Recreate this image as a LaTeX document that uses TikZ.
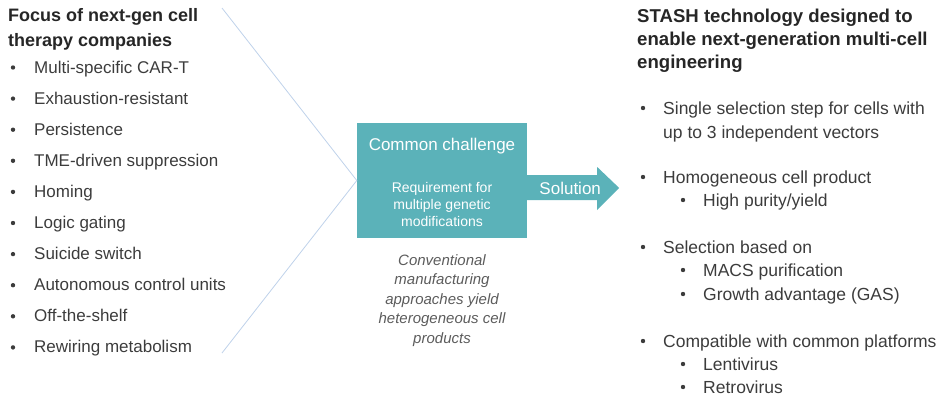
\documentclass[tikz,border=0pt]{standalone}
\usepackage{fontspec}
\setmainfont{Liberation Sans}
\usetikzlibrary{calc, positioning}

\definecolor{boxteal}{HTML}{5BB2B9}
\definecolor{funnel}{HTML}{BFD2EA}
\definecolor{bodytext}{HTML}{3C3C3C}
\definecolor{headtext}{HTML}{262626}
\definecolor{notetext}{HTML}{5C5C5C}

\tikzset{
  heading/.style={anchor=base west, inner sep=0pt, text=headtext,
    font=\fontsize{18}{22}\selectfont\bfseries},
  item/.style={anchor=base west, inner sep=0pt, text=bodytext,
    font=\fontsize{17}{20}\selectfont},
  dot/.style={circle, fill=bodytext, inner sep=0pt, minimum size=4.4pt},
  chalbox/.style={fill=boxteal, inner sep=0pt, minimum width=170, minimum height=115},
  boxtext/.style={anchor=base, inner sep=0pt, text=white},
  note/.style={anchor=base, inner sep=0pt, text=notetext,
    font=\fontsize{15}{18}\selectfont\itshape},
}

\begin{document}
\begin{tikzpicture}[x=1pt, y=-1pt]
\useasboundingbox (0,0) rectangle (950,397);
% Left column: heading and list
\node[heading] (lhead1) at (8,21) {Focus of next-gen cell};
\node[heading] (lhead2) at (8,46) {therapy companies};
\foreach \txt [count=\i from 0] in {Multi-specific CAR-T, Exhaustion-resistant,
    Persistence, TME-driven suppression, Homing, Logic gating, Suicide switch,
    Autonomous control units, Off-the-shelf, Rewiring metabolism} {
  \node[item] (focus\i) at (34, 73+31.1*\i) {\txt};
  \node[dot] (fdot\i) at (13, 67.5+31.1*\i) {};
}
% The common challenge box
\node[chalbox] (chal) at (442,180.5) {};
\node[boxtext, font=\fontsize{17}{20}\selectfont] (chalhead) at ($(chal.north)+(0,28)$) {Common challenge};
\foreach \txt [count=\i from 0] in {Requirement for, multiple genetic, modifications}
  \node[boxtext, font=\fontsize{14}{17}\selectfont] (req\i) at ($(chal.north)+(0,70+17*\i)$) {\txt};
% Funnel lines into the box
\coordinate (ftop) at (222,8);
\coordinate (fbot) at (222,353);
\draw[funnel, line width=0.8pt] (ftop) -- (chal.west) -- (fbot);
% Solution arrow
\fill[boxteal] ($(chal.east)+(0,-5.5)$) -- ++(70,0) -- ++(0,-8) -- ++(22,21)
  -- ++(-22,22) -- ++(0,-10) -- ++(-70,0) -- cycle;
\node[boxtext, font=\fontsize{17}{20}\selectfont] (soln) at ($(chal.east)+(43,13.5)$) {Solution};
% Note under the box
\foreach \txt [count=\i from 0] in {Conventional, manufacturing, approaches yield,
    heterogeneous cell, products}
  \node[note] (note\i) at (442, 265+19.5*\i) {\txt};
% Right column: heading and list
\begin{scope}[heading/.append style={font=\fontsize{18.6}{22}\selectfont\bfseries},
    item/.append style={font=\fontsize{17.5}{20}\selectfont}]
\node[heading] (rhead1) at (637,22) {STASH technology designed to};
\node[heading] (rhead2) at (637,45) {enable next-generation multi-cell};
\node[heading] (rhead3) at (637,68) {engineering};
\node[item] (stash1) at (663,114) {Single selection step for cells with};
\node[item] (stash1b) at (663,138) {up to 3 independent vectors};
\node[item] (stash2) at (663,183) {Homogeneous cell product};
\node[item] (stash2a) at (703,206) {High purity/yield};
\node[item] (stash3) at (663,253) {Selection based on};
\node[item] (stash3a) at (703,276) {MACS purification};
\node[item] (stash3b) at (703,300) {Growth advantage (GAS)};
\node[item] (stash4) at (663,347) {Compatible with common platforms};
\node[item] (stash4a) at (703,370) {Lentivirus};
\node[item] (stash4b) at (703,393) {Retrovirus};
\end{scope}
\foreach \y in {108,177,247,341}
  \node[dot] (sdot\y) at (643,\y) {};
\foreach \y in {200,270,294,364,387}
  \node[dot] (ssub\y) at (683,\y) {};
\end{tikzpicture}
\end{document}
